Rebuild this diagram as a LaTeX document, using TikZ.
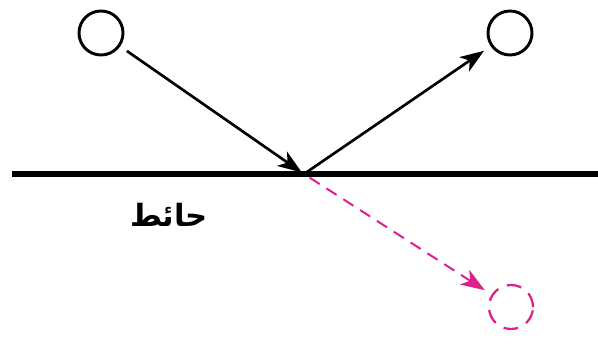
\documentclass[tikz,border=0pt]{standalone}
\usepackage{fontspec}
\newfontfamily\arabicfont[Script=Arabic]{DejaVu Sans}
\TeXXeTstate=1
\usetikzlibrary{arrows.meta}

\definecolor{ghostpink}{RGB}{222,32,140}

\tikzset{every picture/.style={line width=0.75pt}}
\tikzset{
  ball/.style={draw, circle, line width=2.2pt, minimum size=33pt, inner sep=0pt},
  ghostball/.style={ball, color=ghostpink, line width=1.7pt, dash pattern=on 11pt off 7pt},
  wall/.style={line width=3.8pt},
  ray/.style={line width=2pt, -{Stealth[length=18pt,width=13pt,inset=5pt]}},
  ghostray/.style={ray, color=ghostpink, line width=1.5pt, dash pattern=on 9pt off 6pt}
}

\begin{document}
\begin{tikzpicture}[x=0.75pt,y=0.75pt,yscale=-1,xscale=1]
\useasboundingbox (0,0) rectangle (598,346);

%Shape: Circle
\node [ball] (src) at (101,33) {};
%Shape: Circle
\node [ball] (dst) at (510,33) {};
%Shape: Circle
\node [ghostball] (img) at (511,307) {};

\coordinate (wl) at (12,174);
\coordinate (wr) at (598,174);
\coordinate (hit) at (304,174);

%Straight Lines
\draw [wall] (wl) -- (wr);
%Straight Lines
\draw [ray, shorten <=6pt, shorten >=2pt] (src) -- (hit);
%Straight Lines
\draw [ray, shorten <=1pt, shorten >=6pt] (hit) -- (dst);
%Straight Lines
\draw [ghostray, shorten <=5pt, shorten >=6pt] (hit) -- (img);

% Text Node
\node [font=\arabicfont\bfseries\fontsize{23}{26}\selectfont] (lbl) at (169,215) {\beginR حائط\endR};

\end{tikzpicture}
\end{document}
